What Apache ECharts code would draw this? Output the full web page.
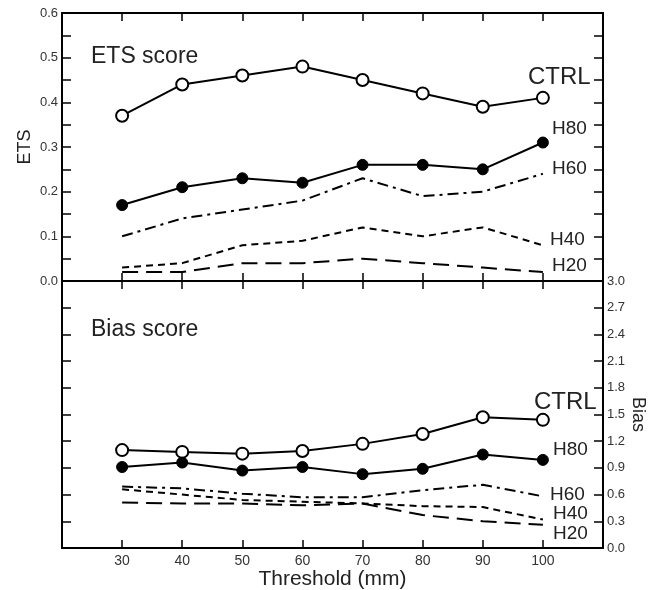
<!DOCTYPE html>
<html>
<head>
<meta charset="utf-8">
<title>ETS and Bias score</title>
<script src="https://cdn.jsdelivr.net/npm/echarts@6/dist/echarts.min.js"></script>
<style>
  html, body { margin: 0; padding: 0; background: #fff; }
  #chart { width: 659px; height: 590px; }
</style>
</head>
<body>
<div id="chart"></div>
<script>
// thresholds (mm)
var thresholds = [30, 40, 50, 60, 70, 80, 90, 100];

// ETS score, upper panel
var etsCtrl = [0.37, 0.44, 0.46, 0.48, 0.45, 0.42, 0.39, 0.41];
var etsH80  = [0.17, 0.21, 0.23, 0.22, 0.26, 0.26, 0.25, 0.31];
var etsH60  = [0.10, 0.14, 0.16, 0.18, 0.23, 0.19, 0.20, 0.24];
var etsH40  = [0.03, 0.04, 0.08, 0.09, 0.12, 0.10, 0.12, 0.08];
var etsH20  = [0.02, 0.02, 0.04, 0.04, 0.05, 0.04, 0.03, 0.02];

// Bias score, lower panel
var biasCtrl = [1.10, 1.08, 1.06, 1.09, 1.17, 1.28, 1.47, 1.44];
var biasH80  = [0.91, 0.96, 0.87, 0.91, 0.83, 0.89, 1.05, 0.99];
var biasH60  = [0.69, 0.67, 0.61, 0.57, 0.57, 0.65, 0.71, 0.58];
var biasH40  = [0.66, 0.60, 0.54, 0.52, 0.50, 0.47, 0.46, 0.32];
var biasH20  = [0.51, 0.50, 0.50, 0.48, 0.50, 0.37, 0.30, 0.26];

var FONT = '"Liberation Sans", Arial, sans-serif';
var INK = '#222';

function pairs(values) {
    return thresholds.map(function (t, i) { return [t, values[i]]; });
}

function xAxisFor(gridIndex, position, withLabels) {
    return {
        type: 'value', gridIndex: gridIndex, position: position,
        min: 20, max: 110, interval: 10,
        axisLine: { show: true, onZero: false, lineStyle: { color: '#000', width: 2 } },
        axisTick: { show: true, inside: true, length: 8, lineStyle: { color: '#000', width: 1.5 } },
        axisLabel: {
            show: withLabels, color: '#333', fontSize: 14, fontFamily: FONT, margin: 6,
            formatter: function (v) { return (v >= 30 && v <= 100) ? String(v) : ''; }
        },
        splitLine: { show: false }
    };
}

function yAxisFor(gridIndex, position, max, interval, minorSplit, withLabels) {
    return {
        type: 'value', gridIndex: gridIndex, position: position,
        min: 0, max: max, interval: interval,
        axisLine: { show: true, onZero: false, lineStyle: { color: '#000', width: 2 } },
        axisTick: { show: true, inside: true, length: 9, lineStyle: { color: '#000', width: 1.5 } },
        minorTick: { show: minorSplit > 1, splitNumber: minorSplit, length: 9, lineStyle: { color: '#000', width: 1.5 } },
        axisLabel: {
            show: withLabels, color: '#333', fontSize: 13, fontFamily: FONT, margin: 4,
            formatter: function (v) { return v.toFixed(1); }
        },
        splitLine: { show: false }
    };
}

function lineSeries(name, values, xi, yi, opts) {
    return Object.assign({
        name: name, type: 'line', xAxisIndex: xi, yAxisIndex: yi,
        data: pairs(values), symbol: 'none',
        lineStyle: { color: '#000', width: 2 }
    }, opts);
}

var openDot = {
    symbol: 'circle', symbolSize: 12,
    itemStyle: { color: '#fff', borderColor: '#000', borderWidth: 2 }
};
var fullDot = {
    symbol: 'circle', symbolSize: 11,
    itemStyle: { color: '#000', borderColor: '#000', borderWidth: 1 }
};

function dashed(pattern) {
    return { lineStyle: { color: '#000', width: 2, type: pattern } };
}

function tag(text, x, y, size) {
    return {
        type: 'text', x: x, y: y, silent: true,
        style: { text: text, font: size + 'px ' + FONT, fill: INK, align: 'left', verticalAlign: 'middle' }
    };
}

var chart = echarts.init(document.getElementById('chart'));

var xAxes = [
    xAxisFor(0, 'bottom', false),
    xAxisFor(0, 'top', false),
    xAxisFor(1, 'bottom', true),
    xAxisFor(1, 'top', false)
];
xAxes[2].name = 'Threshold (mm)';
xAxes[2].nameLocation = 'middle';
xAxes[2].nameGap = 21;
xAxes[2].nameMoveOverlap = false;
xAxes[2].nameTextStyle = { color: INK, fontSize: 21, fontFamily: FONT };

var yAxes = [
    yAxisFor(0, 'left', 0.6, 0.1, 2, true),
    yAxisFor(0, 'right', 0.6, 0.1, 2, false),
    yAxisFor(1, 'right', 3.0, 0.3, 1, true),
    yAxisFor(1, 'left', 3.0, 0.3, 1, false)
];
yAxes[0].name = 'ETS';
yAxes[0].nameLocation = 'middle';
yAxes[0].nameGap = 28;
yAxes[0].nameMoveOverlap = false;
yAxes[0].nameTextStyle = { color: INK, fontSize: 18, fontFamily: FONT };
yAxes[2].name = 'Bias';
yAxes[2].nameLocation = 'middle';
yAxes[2].nameRotate = -90;
yAxes[2].nameGap = 26;
yAxes[2].nameMoveOverlap = false;
yAxes[2].nameTextStyle = { color: INK, fontSize: 18, fontFamily: FONT };

var option = {
    animation: false,
    backgroundColor: '#fff',
    grid: [
        { left: 62, top: 13, width: 541, height: 268, outerBoundsMode: 'none' },
        { left: 62, top: 281, width: 541, height: 267, outerBoundsMode: 'none' }
    ],
    xAxis: xAxes,
    yAxis: yAxes,
    series: [
        lineSeries('CTRL', etsCtrl, 0, 0, openDot),
        lineSeries('H80', etsH80, 0, 0, fullDot),
        lineSeries('H60', etsH60, 0, 0, dashed([11, 5, 3, 5])),
        lineSeries('H40', etsH40, 0, 0, dashed([7, 5])),
        lineSeries('H20', etsH20, 0, 0, dashed([16, 8])),
        lineSeries('CTRL', biasCtrl, 2, 2, openDot),
        lineSeries('H80', biasH80, 2, 2, fullDot),
        lineSeries('H60', biasH60, 2, 2, dashed([11, 5, 3, 5])),
        lineSeries('H40', biasH40, 2, 2, dashed([7, 5])),
        lineSeries('H20', biasH20, 2, 2, dashed([16, 8]))
    ],
    graphic: [
        tag('ETS score', 91, 57, 23),
        tag('CTRL', 528, 77, 24),
        tag('H80', 552, 129, 19),
        tag('H60', 552, 169, 19),
        tag('H40', 550, 240, 19),
        tag('H20', 552, 266, 19),
        tag('Bias score', 91, 330, 23),
        tag('CTRL', 534, 402, 24),
        tag('H80', 553, 450, 19),
        tag('H60', 550, 495, 19),
        tag('H40', 553, 514, 19),
        tag('H20', 553, 534, 19)
    ]
};

chart.setOption(option);
</script>
</body>
</html>
